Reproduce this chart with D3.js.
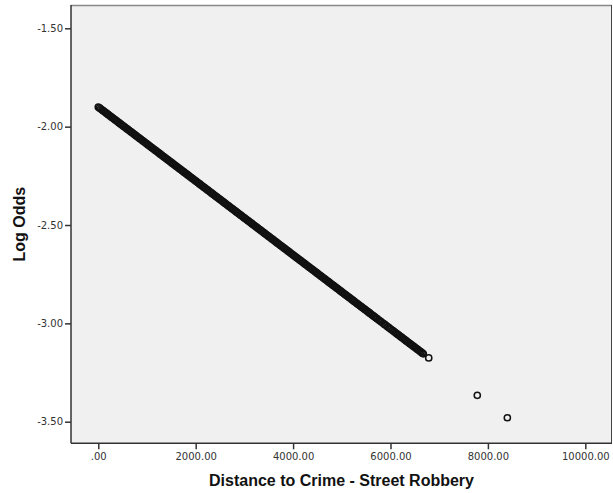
<!DOCTYPE html>
<html><head><meta charset="utf-8">
<script src="https://cdn.jsdelivr.net/npm/d3@7"></script>
<style>body{margin:0;background:#fff}svg{display:block}</style>
</head><body><svg id="c" width="613" height="493"></svg>
<script>
// Distance to Crime - Street Robbery
const distance = [
0,25,50,75,100,125,150,175,200,225,
250,275,300,325,350,375,400,425,450,475,
500,525,550,575,600,625,650,675,700,725,
750,775,800,825,850,875,900,925,950,975,
1000,1025,1050,1075,1100,1125,1150,1175,1200,1225,
1250,1275,1300,1325,1350,1375,1400,1425,1450,1475,
1500,1525,1550,1575,1600,1625,1650,1675,1700,1725,
1750,1775,1800,1825,1850,1875,1900,1925,1950,1975,
2000,2025,2050,2075,2100,2125,2150,2175,2200,2225,
2250,2275,2300,2325,2350,2375,2400,2425,2450,2475,
2500,2525,2550,2575,2600,2625,2650,2675,2700,2725,
2750,2775,2800,2825,2850,2875,2900,2925,2950,2975,
3000,3025,3050,3075,3100,3125,3150,3175,3200,3225,
3250,3275,3300,3325,3350,3375,3400,3425,3450,3475,
3500,3525,3550,3575,3600,3625,3650,3675,3700,3725,
3750,3775,3800,3825,3850,3875,3900,3925,3950,3975,
4000,4025,4050,4075,4100,4125,4150,4175,4200,4225,
4250,4275,4300,4325,4350,4375,4400,4425,4450,4475,
4500,4525,4550,4575,4600,4625,4650,4675,4700,4725,
4750,4775,4800,4825,4850,4875,4900,4925,4950,4975,
5000,5025,5050,5075,5100,5125,5150,5175,5200,5225,
5250,5275,5300,5325,5350,5375,5400,5425,5450,5475,
5500,5525,5550,5575,5600,5625,5650,5675,5700,
5725,5760,5790,5815,5850,5880,5905,5940,5975,6010,6040,6070,
6100,6125,6150,6175,6200,6225,6250,6275,6300,6325,
6350,6375,6400,6425,6450,6475,6500,6525,6550,6575,
6600,6625,6650,6674,6785,7782,8399
];
// Log Odds
const logOdds = [
-1.9000,-1.9047,-1.9094,-1.9141,-1.9188,-1.9235,-1.9282,-1.9329,-1.9376,-1.9423,
-1.9470,-1.9517,-1.9564,-1.9611,-1.9658,-1.9705,-1.9752,-1.9799,-1.9846,-1.9893,
-1.9940,-1.9987,-2.0034,-2.0081,-2.0128,-2.0175,-2.0222,-2.0269,-2.0316,-2.0363,
-2.0410,-2.0457,-2.0504,-2.0551,-2.0598,-2.0645,-2.0692,-2.0739,-2.0786,-2.0833,
-2.0880,-2.0927,-2.0974,-2.1021,-2.1068,-2.1115,-2.1162,-2.1209,-2.1256,-2.1303,
-2.1350,-2.1397,-2.1444,-2.1491,-2.1538,-2.1585,-2.1632,-2.1679,-2.1726,-2.1773,
-2.1820,-2.1867,-2.1914,-2.1961,-2.2008,-2.2055,-2.2102,-2.2149,-2.2196,-2.2243,
-2.2290,-2.2337,-2.2384,-2.2431,-2.2478,-2.2525,-2.2572,-2.2619,-2.2666,-2.2713,
-2.2760,-2.2807,-2.2854,-2.2901,-2.2948,-2.2995,-2.3042,-2.3089,-2.3136,-2.3183,
-2.3230,-2.3277,-2.3324,-2.3371,-2.3418,-2.3465,-2.3512,-2.3559,-2.3606,-2.3653,
-2.3700,-2.3747,-2.3794,-2.3841,-2.3888,-2.3935,-2.3982,-2.4029,-2.4076,-2.4123,
-2.4170,-2.4217,-2.4264,-2.4311,-2.4358,-2.4405,-2.4452,-2.4499,-2.4546,-2.4593,
-2.4640,-2.4687,-2.4734,-2.4781,-2.4828,-2.4875,-2.4922,-2.4969,-2.5016,-2.5063,
-2.5110,-2.5157,-2.5204,-2.5251,-2.5298,-2.5345,-2.5392,-2.5439,-2.5486,-2.5533,
-2.5580,-2.5627,-2.5674,-2.5721,-2.5768,-2.5815,-2.5862,-2.5909,-2.5956,-2.6003,
-2.6050,-2.6097,-2.6144,-2.6191,-2.6238,-2.6285,-2.6332,-2.6379,-2.6426,-2.6473,
-2.6520,-2.6567,-2.6614,-2.6661,-2.6708,-2.6755,-2.6802,-2.6849,-2.6896,-2.6943,
-2.6990,-2.7037,-2.7084,-2.7131,-2.7178,-2.7225,-2.7272,-2.7319,-2.7366,-2.7413,
-2.7460,-2.7507,-2.7554,-2.7601,-2.7648,-2.7695,-2.7742,-2.7789,-2.7836,-2.7883,
-2.7930,-2.7977,-2.8024,-2.8071,-2.8118,-2.8165,-2.8212,-2.8259,-2.8306,-2.8353,
-2.8400,-2.8447,-2.8494,-2.8541,-2.8588,-2.8635,-2.8682,-2.8729,-2.8776,-2.8823,
-2.8870,-2.8917,-2.8964,-2.9011,-2.9058,-2.9105,-2.9152,-2.9199,-2.9246,-2.9293,
-2.9340,-2.9387,-2.9434,-2.9481,-2.9528,-2.9575,-2.9622,-2.9669,-2.9716,
-2.9763,-2.9829,-2.9885,-2.9932,-2.9998,-3.0054,-3.0101,-3.0167,-3.0233,-3.0299,-3.0355,-3.0412,
-3.0468,-3.0515,-3.0562,-3.0609,-3.0656,-3.0703,-3.0750,-3.0797,-3.0844,-3.0891,
-3.0938,-3.0985,-3.1032,-3.1079,-3.1126,-3.1173,-3.1220,-3.1267,-3.1314,-3.1361,
-3.1408,-3.1455,-3.1502,-3.1550,-3.1760,-3.3660,-3.4800
];
const xTicks = [0, 2000, 4000, 6000, 8000, 10000];
const xTickLabels = [".00", "2000.00", "4000.00", "6000.00", "8000.00", "10000.00"];
const yTicks = [-1.5, -2.0, -2.5, -3.0, -3.5];
const yTickLabels = ["-1.50", "-2.00", "-2.50", "-3.00", "-3.50"];
const xTitle = "Distance to Crime - Street Robbery";
const yTitle = "Log Odds";

const svg = d3.select("#c");
const L = 71, R = 612, T = 5, B = 443.3;
const x = d3.scaleLinear().domain([-560, 10548]).range([L, R]);
const y = d3.scaleLinear().domain([-1.3815, -3.6098]).range([T, B]);

svg.append("rect").attr("x", L).attr("y", T).attr("width", R - L).attr("height", B - T).attr("fill", "#f0f0f0");
svg.append("line").attr("x1", L).attr("x2", R).attr("y1", T + 0.5).attr("y2", T + 0.5).attr("stroke", "#888").attr("stroke-width", 1.5);
svg.append("line").attr("x1", R - 0.5).attr("x2", R - 0.5).attr("y1", T).attr("y2", B).attr("stroke", "#444").attr("stroke-width", 1);

const font = "DejaVu Sans, Verdana, sans-serif";
const titleFont = "Liberation Sans, Arial, sans-serif";
const ax = svg.append("g").attr("transform", `translate(0,${B})`)
  .call(d3.axisBottom(x).tickValues(xTicks).tickFormat((d, i) => xTickLabels[i]).tickSizeOuter(0).tickSize(6).tickPadding(4));
const ay = svg.append("g").attr("transform", `translate(${L},0)`)
  .call(d3.axisLeft(y).tickValues(yTicks).tickFormat((d, i) => yTickLabels[i]).tickSizeOuter(0).tickSize(6).tickPadding(2));
[ax, ay].forEach(g => {
  g.select(".domain").attr("stroke", "#333").attr("stroke-width", 1.5);
  g.selectAll(".tick line").attr("stroke", "#333").attr("stroke-width", 1.5);
  g.selectAll(".tick text").attr("fill", "#333").style("font-family", font).style("font-size", "10px");
});
ax.select(".domain").attr("d", `M${L},0H${R}`);
ay.select(".domain").attr("d", `M0,${T}V${B}`);

const pts = distance.map((d, i) => [d, logOdds[i]]);
svg.append("g").selectAll("circle").data(pts).join("circle")
  .attr("cx", d => x(d[0])).attr("cy", d => y(d[1])).attr("r", 3.1)
  .attr("fill", "none").attr("stroke", "#111").attr("stroke-width", 1.5);

svg.append("text").attr("x", (L + R) / 2).attr("y", 485.5).attr("text-anchor", "middle")
  .style("font-family", titleFont).style("font-size", "16px").style("font-weight", "bold").attr("fill", "#111").text(xTitle);
svg.append("text").attr("transform", `translate(24.5,${(T + B) / 2}) rotate(-90)`).attr("text-anchor", "middle")
  .style("font-family", titleFont).style("font-size", "16px").style("font-weight", "bold").attr("fill", "#111").text(yTitle);
</script></body></html>
